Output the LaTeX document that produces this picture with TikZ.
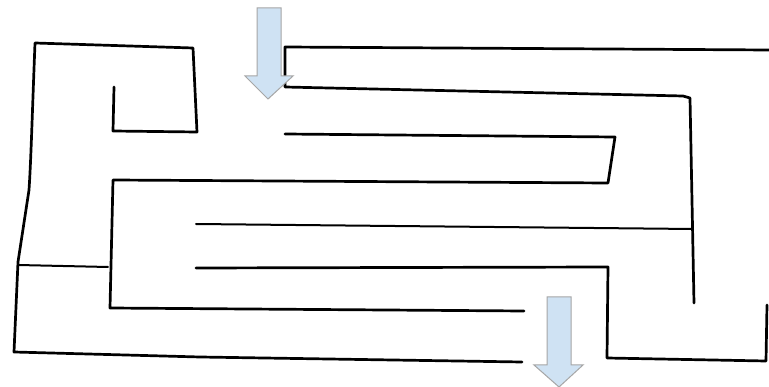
\documentclass[tikz,border=0pt]{standalone}
\begin{document}
\begin{tikzpicture}[x=1pt,y=-1pt,
  wall/.style={line width=2.7pt,line join=round,line cap=round,black},
  thinwall/.style={line width=2pt,line join=round,line cap=round,black},
  arrowshape/.style={fill=arrowfill,draw=arrowedge,line width=1pt,line join=miter}]
\definecolor{arrowfill}{HTML}{CFE2F3}
\definecolor{arrowedge}{HTML}{A6A6A6}
\useasboundingbox[fill=white] (0,0) rectangle (769,387);
% left outer wall with hook
\draw[wall] (114,87) -- (113,131) -- (197,132) -- (193,48) -- (35,43)
  .. controls (32,120) and (31,160) .. (29,190) -- (18,262) -- (14,352) -- (200,357) -- (522,362);
\draw[thinwall] (18,265) -- (108,267);
% inner snake
\draw[wall] (285,134) -- (615,137) -- (608,183) -- (113,180) -- (110,308) -- (524,311);
\draw[thinwall] (196,224) -- (693,229);
\draw[wall] (196,268) -- (608,267) -- (607,358) -- (766,361) -- (767,305);
% top corridor
\draw[wall] (769,50) -- (285,47) -- (285,87) -- (683,96) -- (690,98) -- (694,303);
% arrows
\draw[arrowshape] (257,8) -- (281,8) -- (281,76) -- (293,76) -- (268,99) -- (245,76) -- (257,76) -- cycle;
\draw[arrowshape] (547,297) -- (571,297) -- (571,365) -- (583,365) -- (559,387) -- (534,365) -- (547,365) -- cycle;
\end{tikzpicture}
\end{document}
